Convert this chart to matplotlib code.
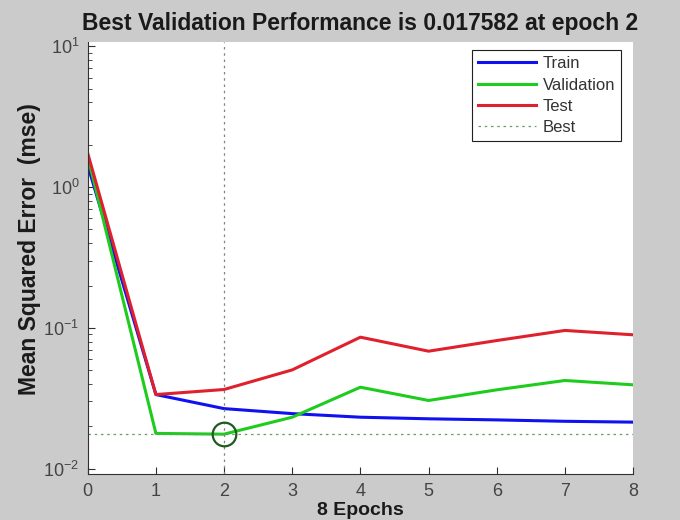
import matplotlib
matplotlib.use('Agg')
import matplotlib.pyplot as plt
from matplotlib.ticker import LogLocator, NullFormatter

plt.rcParams['font.family'] = ['Liberation Sans', 'DejaVu Sans']

# Training record: mse per epoch for each data split
epochs = [0, 1, 2, 3, 4, 5, 6, 7, 8]
train_mse = [1.43, 0.0336, 0.0267, 0.0246, 0.0232, 0.0226, 0.0222, 0.0217, 0.0214]
val_mse = [1.65, 0.0178, 0.017582, 0.0232, 0.0379, 0.0305, 0.0363, 0.0423, 0.0394]
test_mse = [1.74, 0.0336, 0.0365, 0.0503, 0.0859, 0.0683, 0.0813, 0.0959, 0.0893]

best_epoch = 2
best_perf = val_mse[best_epoch]

fig = plt.figure(figsize=(6.8, 5.2), dpi=100)
fig.set_facecolor('#cbcbcb')
ax = fig.add_axes([0.129, 0.089, 0.802, 0.830])
ax.set_facecolor('white')

ax.semilogy(epochs, train_mse, color='#1010f0', lw=2.2, label='Train')
ax.semilogy(epochs, val_mse, color='#1ecc1e', lw=2.2, label='Validation')
ax.semilogy(epochs, test_mse, color='#e0202c', lw=2.2, label='Test')

# best validation markers
ax.axhline(best_perf, color='#6a9a6a', lw=0.9, ls=(0, (2, 3)), label='Best')
ax.axvline(best_epoch, color='#7a8a7a', lw=0.9, ls=(0, (2, 3)))
ax.plot([best_epoch], [best_perf], 'o', mfc='none', mec='#1f5a1f',
        ms=17, mew=1.6)

ax.set_xlim(0, 8)
ax.set_ylim(10 ** -2.036, 10 ** 1.03)
ax.set_xticks(range(9))
ax.yaxis.set_major_locator(LogLocator(base=10, numticks=10))
ax.yaxis.set_minor_locator(LogLocator(base=10, subs=range(2, 10), numticks=10))
ax.yaxis.set_minor_formatter(NullFormatter())

ax.spines[['top', 'right']].set_visible(False)
ax.spines[['left', 'bottom']].set_color('#303030')
ax.tick_params(direction='in', length=5, colors='#303030', labelsize=13,
               labelcolor='#444444')
ax.tick_params(which='minor', direction='in', length=3, colors='#303030')
ax.tick_params(axis='x', pad=7)
ax.tick_params(axis='y', pad=6)

ax.set_title('Best Validation Performance is 0.017582 at epoch 2',
             fontsize=16.5, fontweight='bold', color='#1a1a1a', pad=9)
ax.set_xlabel('8 Epochs', fontsize=14, fontweight='bold', color='#1a1a1a',
              labelpad=1)
ax.set_ylabel('Mean Squared Error  (mse)', fontsize=16.5, fontweight='bold',
              color='#1a1a1a')
ax.yaxis.set_label_coords(-0.085, 0.52)

leg = ax.legend(loc='upper right', bbox_to_anchor=(0.993, 1.0),
                fontsize=12, fancybox=False, framealpha=1,
                edgecolor='#202020', handlelength=3.5, borderpad=0.35,
                labelspacing=0.38, handletextpad=0.4)
leg.get_frame().set_linewidth(0.8)
for text in leg.get_texts():
    text.set_color('#333333')

fig.savefig('out.png', dpi=100, facecolor=fig.get_facecolor())
